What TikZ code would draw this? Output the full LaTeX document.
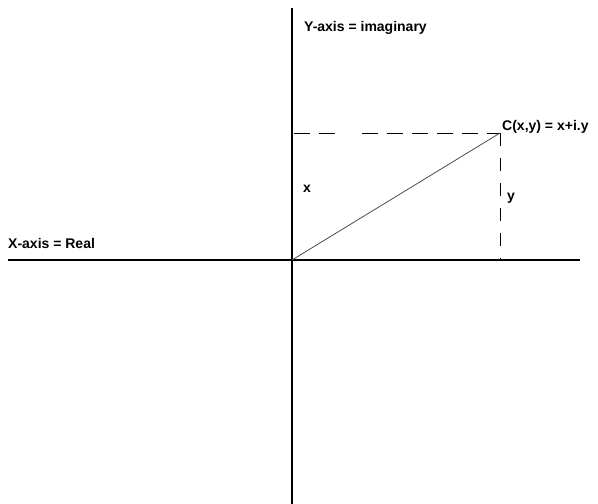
\documentclass[tikz,border=0pt]{standalone}
\usepackage{fontspec}
\setmainfont{Liberation Sans}
\begin{document}
\begin{tikzpicture}[x=1pt,y=-1pt,
  axis/.style={line width=2pt},
  hguide/.style={line width=1pt,dash pattern=on 16pt off 9pt},
  vguide/.style={line width=1pt,dash pattern=on 13pt off 12pt},
  lbl/.style={font=\bfseries\fontsize{14}{16}\selectfont,inner sep=0pt,anchor=base west}]
\useasboundingbox (0,0) rectangle (598,504);
\coordinate (O) at (292,260);
\coordinate (ytop) at (292,8);
\coordinate (ybot) at (292,504);
\coordinate (xl) at (8,260);
\coordinate (xr) at (580,260);
\coordinate (C) at (500,133);
\coordinate (Cy) at (294,133);
\coordinate (Cg1) at (336,133);
\coordinate (Cg2) at (362,133);
\coordinate (Cx) at (500,260);
\draw[axis] (ytop) -- (ybot);
\draw[axis] (xl) -- (xr);
\draw[hguide] (Cy) -- (Cg1);
\draw[hguide] (Cg2) -- (C);
\draw[vguide] (C) -- (Cx);
\draw[line width=0.8pt,black!70] (O) -- (C);
\node[lbl] (ylab) at (304,31) {Y-axis = imaginary};
\node[lbl] (clab) at (502,130) {C(x,y) = x+i.y};
\node[lbl] (xs) at (303,192) {x};
\node[lbl] (ys) at (507,200) {y};
\node[lbl] (xlab) at (8,248) {X-axis = Real};
\end{tikzpicture}
\end{document}
